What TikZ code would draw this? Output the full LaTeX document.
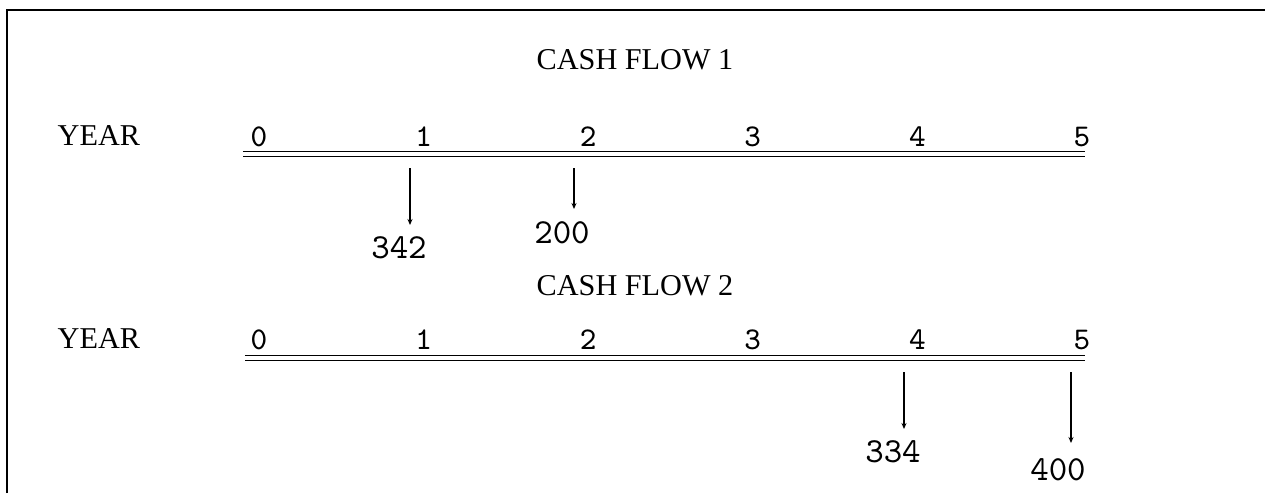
\documentclass[tikz,border=0pt]{standalone}
\usepackage{fontspec}
\setmainfont{Liberation Serif}
\usetikzlibrary{arrows.meta}
\tikzset{
  heading/.style={font=\fontsize{8.6}{10}\selectfont, inner sep=0pt, anchor=base},
  yearnum/.style={font=\ttfamily\fontsize{9}{10}\selectfont, inner sep=0pt, anchor=base},
  amount/.style={font=\ttfamily\fontsize{10}{11}\selectfont, inner sep=0pt, anchor=base},
  timeline/.style={double, double distance=0.035cm, line width=0.016cm},
  cashdown/.style={-{Stealth[length=0.06cm,width=0.05cm]}, line width=0.016cm},
  boxline/.style={line width=0.02cm}
}

\begin{document}
\begin{tikzpicture}[x=0.01cm, y=-0.01cm]
  \useasboundingbox (0,0) rectangle (1265,493);

  % Outer frame (top and left edges)
  \coordinate (fbl) at (7,493);
  \coordinate (ftl) at (7,10);
  \coordinate (ftr) at (1265,10);
  \draw[boxline] (fbl) -- (ftl) -- (ftr);

  % Cash flow 1
  \node[heading] (title1) at (635,69) {CASH FLOW 1};
  \node[heading, anchor=base west] (year1) at (57,145) {YEAR};
  \foreach \i in {0,...,5}
    \node[yearnum] (ya\i) at (259+164.6*\i,146) {\i};
  \coordinate (la) at (243,154);
  \coordinate (ra) at (1085,154);
  \draw[timeline] (la) -- (ra);

  \coordinate (a1top) at (410,168);
  \coordinate (a1end) at (410,225);
  \draw[cashdown] (a1top) -- (a1end);
  \node[amount] (v342) at (399,258) {342};

  \coordinate (a2top) at (574,168);
  \coordinate (a2end) at (574,209);
  \draw[cashdown] (a2top) -- (a2end);
  \node[amount] (v200) at (562,243) {200};

  % Cash flow 2
  \node[heading] (title2) at (635,295) {CASH FLOW 2};
  \node[heading, anchor=base west] (year2) at (57,348) {YEAR};
  \foreach \i in {0,...,5}
    \node[yearnum] (yb\i) at (259+164.6*\i,349) {\i};
  \coordinate (lb) at (245,358);
  \coordinate (rb) at (1085,358);
  \draw[timeline] (lb) -- (rb);

  \coordinate (b1top) at (904,372);
  \coordinate (b1end) at (904,429);
  \draw[cashdown] (b1top) -- (b1end);
  \node[amount] (v334) at (893,462) {334};

  \coordinate (b2top) at (1071,372);
  \coordinate (b2end) at (1071,443);
  \draw[cashdown] (b2top) -- (b2end);
  \node[amount] (v400) at (1058,480) {400};
\end{tikzpicture}
\end{document}
